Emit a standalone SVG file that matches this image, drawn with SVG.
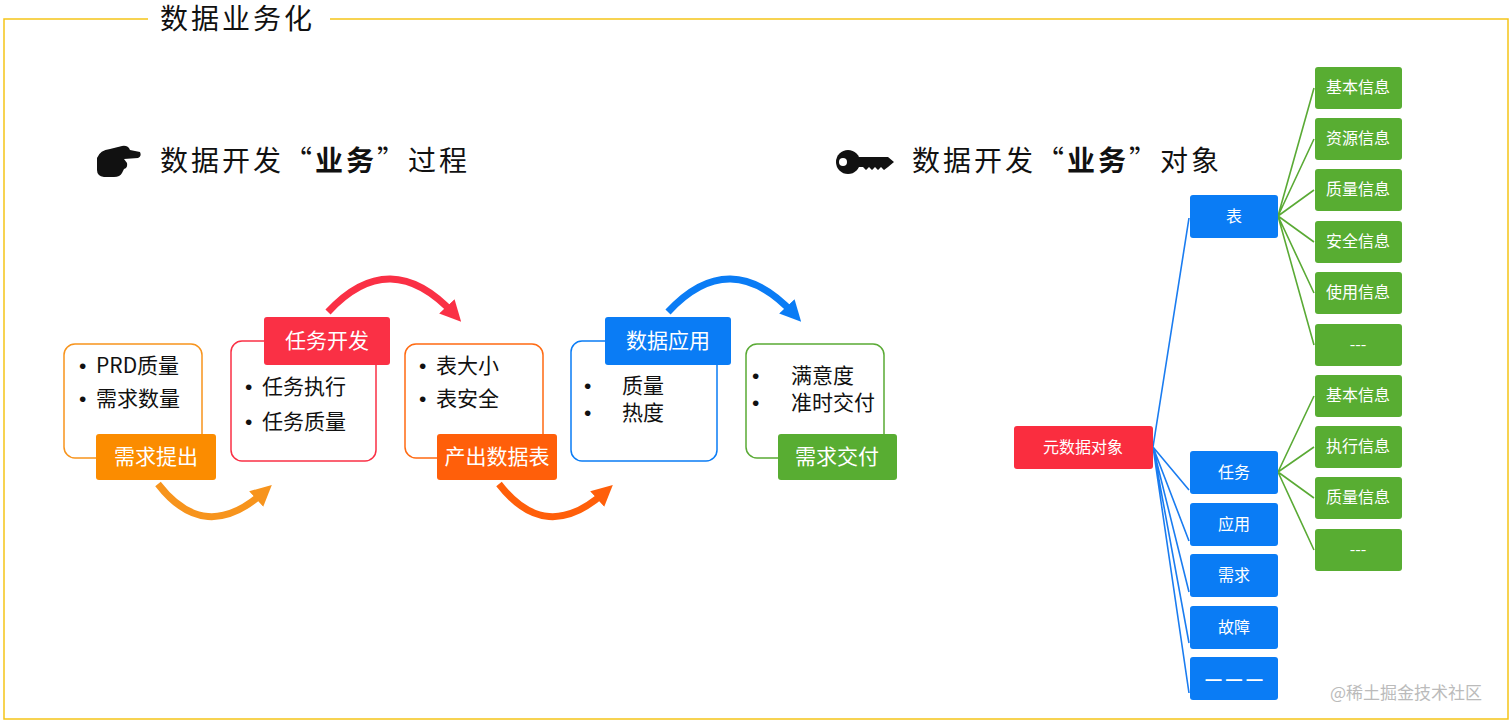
<svg xmlns="http://www.w3.org/2000/svg" width="1512" height="725" viewBox="0 0 1512 725">
<style>
text{font-family:"Noto Sans CJK SC","Liberation Sans",sans-serif}
.dot{font-family:"Liberation Sans",sans-serif}
.lbl{fill:#fff;font-size:21px;text-anchor:middle}
.bul{fill:#111;font-size:21px}
.tn{fill:#fff;font-size:16px;text-anchor:middle}
.head{fill:#111;font-size:28px;letter-spacing:3px}
.bl{stroke:#1a7cf0;stroke-width:1.6;fill:none}
.gl{stroke:#5aaa35;stroke-width:1.6;fill:none}
.arc{fill:none;stroke-width:7}
</style>
<defs>
<marker id="mo" viewBox="0 0 10 10" refX="5" refY="5" markerWidth="3" markerHeight="3" orient="auto"><path d="M0,0 L10,5 L0,10 Z" fill="#f7941d"/></marker>
<marker id="mr" viewBox="0 0 10 10" refX="5" refY="5" markerWidth="3" markerHeight="3" orient="auto"><path d="M0,0 L10,5 L0,10 Z" fill="#fa3045"/></marker>
<marker id="mor" viewBox="0 0 10 10" refX="5" refY="5" markerWidth="3" markerHeight="3" orient="auto"><path d="M0,0 L10,5 L0,10 Z" fill="#ff5f0a"/></marker>
<marker id="mb" viewBox="0 0 10 10" refX="5" refY="5" markerWidth="3" markerHeight="3" orient="auto"><path d="M0,0 L10,5 L0,10 Z" fill="#0a7cf5"/></marker>
</defs>
<rect width="1512" height="725" fill="#fff"/>
<path d="M148,19 H4 V719 H1508 V19 H330" fill="none" stroke="#f5c518" stroke-width="1.5"/>
<text x="160" y="29" font-size="28" fill="#111" letter-spacing="3">数据业务化</text>

<g id="heading-left">
<path d="M97,158 Q100,150 110,149 L122,146 Q128,145 130,150 L140,152 Q142,156 138,158 L124,159 L127,163 Q128,168 124,169 L122,173 Q120,177 114,177 L104,177 Q97,176 97,170 Z" fill="#111"/>
<text x="160" y="171" class="head">数据开发“<tspan font-weight="bold">业务</tspan>”过程</text>
</g>
<g id="heading-right">
<circle cx="848" cy="162" r="12" fill="#111"/>
<circle cx="843" cy="162" r="4" fill="#fff"/>
<path d="M858,157 H888 L894,162 L888,167 L884,170 L881,167 L878,170 L875,167 L872,170 L869,167 L866,170 L863,167 H858 Z" fill="#111"/>
<text x="912" y="171" class="head">数据开发“<tspan font-weight="bold">业务</tspan>”对象</text>
</g>

<g id="connectors-process">
<path class="arc" stroke="#f7941d" d="M158,484 Q205,545 264,492" marker-end="url(#mo)"/>
<path class="arc" stroke="#ff5f0a" d="M499,484 Q546,545 605,492" marker-end="url(#mor)"/>
<path class="arc" stroke="#fa3045" d="M328,312 Q390,245 454,314" marker-end="url(#mr)"/>
<path class="arc" stroke="#0a7cf5" d="M668,312 Q730,245 794,314" marker-end="url(#mb)"/>
</g>

<g id="step1">
<rect x="64" y="344" width="138" height="114" rx="11" fill="none" stroke="#f7941d" stroke-width="1.5"/>
<text x="79" y="373" class="bul"><tspan class="dot">•</tspan><tspan x="96">PRD质量</tspan></text>
<text x="79" y="406" class="bul"><tspan class="dot">•</tspan><tspan x="96">需求数量</tspan></text>
<rect x="96" y="434" width="120" height="46" rx="3" fill="#fb8c00"/>
<text x="156" y="464" class="lbl">需求提出</text>
</g>
<g id="step2">
<rect x="231" y="341" width="145" height="120" rx="11" fill="none" stroke="#fa3045" stroke-width="1.5"/>
<text x="245" y="394" class="bul"><tspan class="dot">•</tspan><tspan x="262">任务执行</tspan></text>
<text x="245" y="429" class="bul"><tspan class="dot">•</tspan><tspan x="262">任务质量</tspan></text>
<rect x="264" y="317" width="126" height="48" rx="3" fill="#fa3045"/>
<text x="327" y="348" class="lbl">任务开发</text>
</g>
<g id="step3">
<rect x="405" y="344" width="138" height="114" rx="11" fill="none" stroke="#ff6a12" stroke-width="1.5"/>
<text x="419" y="373" class="bul"><tspan class="dot">•</tspan><tspan x="436">表大小</tspan></text>
<text x="419" y="406" class="bul"><tspan class="dot">•</tspan><tspan x="436">表安全</tspan></text>
<rect x="437" y="434" width="120" height="46" rx="3" fill="#ff5f0a"/>
<text x="497" y="464" class="lbl">产出数据表</text>
</g>
<g id="step4">
<rect x="571" y="341" width="146" height="120" rx="11" fill="none" stroke="#0a7cf5" stroke-width="1.5"/>
<text x="584" y="393" class="bul dot" font-size="20">•</text>
<text x="622" y="393" class="bul" font-size="20">质量</text>
<text x="584" y="420" class="bul dot" font-size="20">•</text>
<text x="622" y="420" class="bul" font-size="20">热度</text>
<rect x="605" y="317" width="126" height="48" rx="3" fill="#0a7cf5"/>
<text x="668" y="348" class="lbl">数据应用</text>
</g>
<g id="step5">
<rect x="746" y="344" width="138" height="114" rx="11" fill="none" stroke="#5aaa35" stroke-width="1.5"/>
<text x="752" y="383" class="bul dot" font-size="20">•</text>
<text x="791" y="383" class="bul" font-size="20">满意度</text>
<text x="752" y="410" class="bul dot" font-size="20">•</text>
<text x="791" y="410" class="bul" font-size="20">准时交付</text>
<rect x="778" y="434" width="119" height="46" rx="3" fill="#58ad32"/>
<text x="837" y="464" class="lbl">需求交付</text>
</g>

<g id="connectors-tree">
<path class="bl" d="M1153,447 L1189,218 M1153,447 L1189,490 M1153,447 L1189,541 M1153,447 L1189,592 M1153,447 L1189,643 M1153,447 L1189,693"/>
<path class="gl" d="M1278,216 L1314,88 M1278,216 L1314,139 M1278,216 L1314,190 M1278,216 L1314,242 M1278,216 L1314,293 M1278,216 L1314,345"/>
<path class="gl" d="M1278,472 L1314,396 M1278,472 L1314,447 M1278,472 L1314,498 M1278,472 L1314,550"/>
</g>

<g id="root"><rect x="1014" y="426" width="139" height="43" rx="3" fill="#fa2d3f"/><text x="1083" y="453" class="tn">元数据对象</text></g>
<g id="n-biao"><rect x="1190" y="195" width="88" height="43" rx="3" fill="#0a7cf5"/><text x="1234" y="222" class="tn">表</text></g>
<g id="n-renwu"><rect x="1190" y="451" width="88" height="43" rx="3" fill="#0a7cf5"/><text x="1234" y="478" class="tn">任务</text></g>
<g id="n-yingyong"><rect x="1190" y="503" width="88" height="43" rx="3" fill="#0a7cf5"/><text x="1234" y="530" class="tn">应用</text></g>
<g id="n-xuqiu"><rect x="1190" y="554" width="88" height="43" rx="3" fill="#0a7cf5"/><text x="1234" y="581" class="tn">需求</text></g>
<g id="n-guzhang"><rect x="1190" y="606" width="88" height="43" rx="3" fill="#0a7cf5"/><text x="1234" y="633" class="tn">故障</text></g>
<g id="n-more"><rect x="1190" y="657" width="88" height="43" rx="3" fill="#0a7cf5"/><text x="1234" y="685" class="tn dot" font-weight="bold" font-size="18">— — —</text></g>

<g id="g1"><rect x="1315" y="67" width="87" height="42" rx="3" fill="#58ad32"/><text x="1358" y="93" class="tn">基本信息</text></g>
<g id="g2"><rect x="1315" y="118" width="87" height="42" rx="3" fill="#58ad32"/><text x="1358" y="144" class="tn">资源信息</text></g>
<g id="g3"><rect x="1315" y="169" width="87" height="42" rx="3" fill="#58ad32"/><text x="1358" y="195" class="tn">质量信息</text></g>
<g id="g4"><rect x="1315" y="221" width="87" height="42" rx="3" fill="#58ad32"/><text x="1358" y="247" class="tn">安全信息</text></g>
<g id="g5"><rect x="1315" y="272" width="87" height="42" rx="3" fill="#58ad32"/><text x="1358" y="298" class="tn">使用信息</text></g>
<g id="g6"><rect x="1315" y="324" width="87" height="42" rx="3" fill="#58ad32"/><text x="1358" y="350" class="tn">---</text></g>
<g id="g7"><rect x="1315" y="375" width="87" height="42" rx="3" fill="#58ad32"/><text x="1358" y="401" class="tn">基本信息</text></g>
<g id="g8"><rect x="1315" y="426" width="87" height="42" rx="3" fill="#58ad32"/><text x="1358" y="452" class="tn">执行信息</text></g>
<g id="g9"><rect x="1315" y="477" width="87" height="42" rx="3" fill="#58ad32"/><text x="1358" y="503" class="tn">质量信息</text></g>
<g id="g10"><rect x="1315" y="529" width="87" height="42" rx="3" fill="#58ad32"/><text x="1358" y="555" class="tn">---</text></g>

<text x="1330" y="699" font-size="17" fill="#bbb">@稀土掘金技术社区</text>
</svg>
